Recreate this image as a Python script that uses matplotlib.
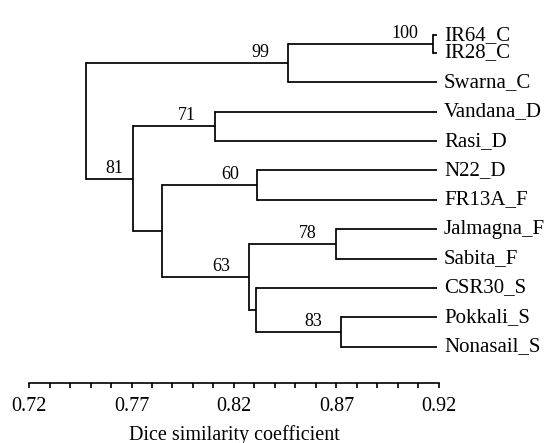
import matplotlib.pyplot as plt
from matplotlib.ticker import MultipleLocator

plt.rcParams['font.family'] = ['Liberation Serif', 'DejaVu Serif']

# leaves, top to bottom, and their vertical slots
leaves = ['IR64_C', 'IR28_C', 'Swarna_C', 'Vandana_D', 'Rasi_D', 'N22_D',
          'FR13A_F', 'Jalmagna_F', 'Sabita_F', 'CSR30_S', 'Pokkali_S', 'Nonasail_S']
leaf_y = [0.4, 1.0, 2.0, 3.0, 4.0, 5.0, 6.0, 7.0, 8.0, 9.0, 10.0, 11.0]
leaf_x = 0.919

# internal nodes: name -> (children, similarity, bootstrap)
nodes = {
    'root': (['n99', 'n81'], 0.7478, None),
    'n99': (['n100', 'Swarna_C'], 0.8465, 99),
    'n100': (['IR64_C', 'IR28_C'], 0.9170, 100),
    'n81': (['n71', 'nE'], 0.7709, 81),
    'n71': (['Vandana_D', 'Rasi_D'], 0.8107, 71),
    'nE': (['n60', 'n63'], 0.7849, None),
    'n60': (['N22_D', 'FR13A_F'], 0.8314, 60),
    'n63': (['n78', 'nI'], 0.8273, 63),
    'n78': (['Jalmagna_F', 'Sabita_F'], 0.8696, 78),
    'nI': (['CSR30_S', 'n83'], 0.8306, None),
    'n83': (['Pokkali_S', 'Nonasail_S'], 0.8720, 83),
}

fig = plt.figure(figsize=(5.47, 4.43), dpi=100)
ax = fig.add_axes((29 / 547, 1 - 383 / 443, 410 / 547, 363 / 443))

pos = {name: (leaf_x, y) for name, y in zip(leaves, leaf_y)}


def place(name):
    if name in pos:
        return pos[name]
    children, x, _ = nodes[name]
    ys = [place(c)[1] for c in children]
    pos[name] = (x, sum(ys) / len(ys))
    return pos[name]


place('root')

lw = 1.25
for name, (children, x, boot) in nodes.items():
    y = pos[name][1]
    cys = [pos[c][1] for c in children]
    ax.plot([x, x], [min(cys), max(cys)], c='k', lw=lw, solid_capstyle='projecting')
    for c in children:
        cx, cy = pos[c]
        ax.plot([x, cx], [cy, cy], c='k', lw=lw, solid_capstyle='butt')
        if c in nodes and nodes[c][2] is not None:
            branch = cx - x
            lx = cx - min(0.0135, 0.4 * branch)
            ax.annotate(str(nodes[c][2]), (lx, cy), xytext=(0, 1.5),
                        textcoords='offset points', ha='center', va='bottom',
                        fontsize=13)

for name, y in zip(leaves, leaf_y):
    ax.annotate(name, (leaf_x, y), xytext=(5, 0), textcoords='offset points',
                ha='left', va='center', fontsize=15, annotation_clip=False)

ax.set_xlim(0.72, 0.92)
ax.set_ylim(12.23, -0.12)
for s in ['left', 'top', 'right']:
    ax.spines[s].set_visible(False)
ax.spines['bottom'].set_linewidth(1.2)
ax.set_yticks([])
ax.xaxis.set_major_locator(MultipleLocator(0.05))
ax.xaxis.set_minor_locator(MultipleLocator(0.01))
ax.set_xticks([0.72, 0.77, 0.82, 0.87, 0.92])
ax.set_xticklabels(['0.72', '0.77', '0.82', '0.87', '0.92'])
ax.tick_params(axis='x', which='both', direction='out', length=3.8, width=1.2,
               labelsize=14.5, pad=6.5)
ax.set_xlabel('Dice similarity coefficient', fontsize=14.5, labelpad=6)

fig.savefig('out.png', dpi=100)
